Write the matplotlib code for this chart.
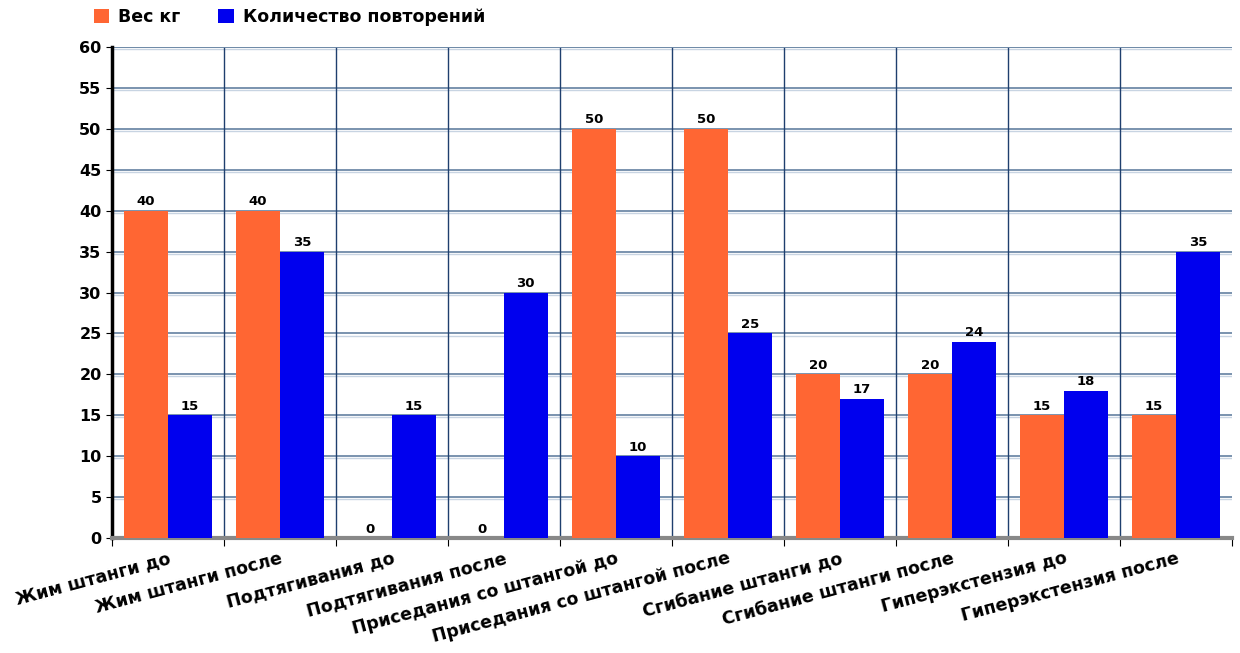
import numpy as np
import matplotlib.pyplot as plt

categories = ["Жим штанги до", "Жим штанги после", "Подтягивания до", "Подтягивания после",
              "Приседания со штангой до", "Приседания со штангой после", "Сгибание штанги до",
              "Сгибание штанги после", "Гиперэкстензия до", "Гиперэкстензия после"]
weight = [40, 40, 0, 0, 50, 50, 20, 20, 15, 15]
reps = [15, 35, 15, 30, 10, 25, 17, 24, 18, 35]
series_names = ["Вес кг", "Количество повторений"]

orange = "#ff6633"
blue = "#0000ee"

fig = plt.figure(figsize=(12.4, 6.53), dpi=100)
ax = fig.add_axes([0.0903, 0.176, 0.9032, 0.752])

x = np.arange(len(categories))
w = 0.39
b1 = ax.bar(x - w / 2, weight, w, color=orange, label=series_names[0], zorder=3)
b2 = ax.bar(x + w / 2, reps, w, color=blue, label=series_names[1], zorder=3)

for bars, vals in [(b1, weight), (b2, reps)]:
    for r, v in zip(bars, vals):
        ax.text(r.get_x() + r.get_width() / 2, v + 0.3, str(v), ha="center", va="bottom",
                fontsize=9.5, fontweight="bold", zorder=4)

ax.set_xlim(-0.5, len(categories) - 0.5)
ax.set_ylim(0, 60)
ax.set_yticks(range(0, 61, 5))
ax.tick_params(axis="y", labelsize=11.5, length=4)
for t in ax.get_yticklabels():
    t.set_fontweight("bold")

# horizontal grid
for yv in range(5, 61, 5):
    ax.axhline(yv, color="#6f8aa8", lw=1.3, zorder=1)
    ax.axhline(yv - 0.25, color="#c8d4e2", lw=1.0, zorder=1)
# vertical separators
for xv in np.arange(0.5, len(categories) - 0.5, 1):
    ax.axvline(xv, color="#1f3f6e", lw=1.0, zorder=1)

ax.set_xticks(np.arange(-0.5, len(categories), 1), minor=False)
ax.set_xticklabels([])
ax.set_xticks(x, minor=True)
ax.set_xticklabels(categories, minor=True, rotation=15, ha="right", rotation_mode="anchor",
                   fontsize=12.5, fontweight="bold")
ax.tick_params(axis="x", which="minor", length=0, pad=8)
ax.tick_params(axis="x", which="major", length=6)

for s in ["top", "right"]:
    ax.spines[s].set_visible(False)
ax.spines["left"].set_linewidth(2.5)
ax.spines["left"].set_color("black")
ax.spines["bottom"].set_linewidth(3)
ax.spines["bottom"].set_color("#888888")
ax.axhline(60, color="#6f8aa8", lw=1.3, zorder=1)

fig.legend(loc="upper left", bbox_to_anchor=(0.063, 1.012), ncol=2, frameon=False,
           prop={"weight": "bold", "size": 12.5}, handlelength=0.9, handleheight=0.9,
           columnspacing=2.2, handletextpad=0.5)

fig.savefig("out.png", dpi=100)
